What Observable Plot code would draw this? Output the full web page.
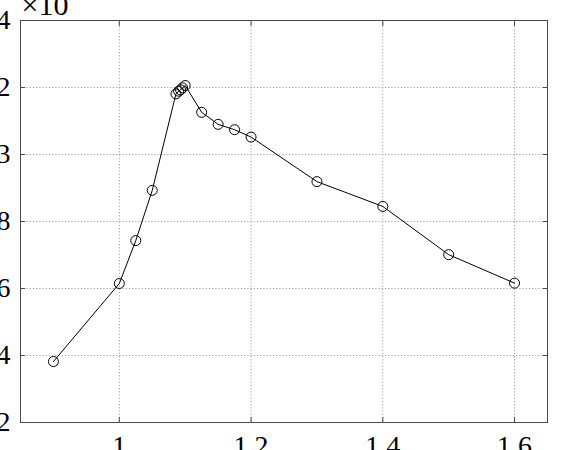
<!DOCTYPE html>
<html>
<head>
<meta charset="utf-8">
<script src="https://cdn.jsdelivr.net/npm/d3@7"></script>
<script src="https://cdn.jsdelivr.net/npm/@observablehq/plot@0.6"></script>
<style>
  html, body { margin: 0; padding: 0; background: #fff; overflow: hidden; }
  svg { display: block; }
  svg text { font-family: 'Liberation Serif', 'Times New Roman', serif; }
</style>
</head>
<body>
<div id="chart"></div>
<script>
const xValues = [0.9, 1.0, 1.025, 1.05, 1.086, 1.09, 1.093, 1.096, 1.1, 1.125, 1.15, 1.175, 1.2, 1.3, 1.4, 1.5, 1.6];
const yValues = [3.82, 6.15, 7.43, 8.93, 11.81, 11.89, 11.93, 11.99, 12.06, 11.26, 10.9, 10.74, 10.52, 9.19, 8.45, 7.01, 6.16];
const xTicks = [1.0, 1.2, 1.4, 1.6];
const xTickLabels = ["1", "1.2", "1.4", "1.6"];
const yTicks = [2, 4, 6, 8, 10, 12, 14];
const yTickLabels = ["2", "4", "6", "8", "3", "2", "4"];
const exponentLabel = "×10";

const data = xValues.map((x, i) => ({x, y: yValues[i]}));
const gridStyle = {stroke: "#a0a0a0", strokeOpacity: 1, strokeDasharray: "1.2,2", strokeWidth: 1};
const frameColor = "#4a4a4a";

const chart = Plot.plot({
  width: 565,
  height: 450,
  marginLeft: 20,
  marginRight: 18,
  marginTop: 20,
  marginBottom: 28,
  style: {fontFamily: "'Liberation Serif', 'Times New Roman', serif", fontSize: "28px", color: "#000", background: "#fff"},
  x: {domain: [0.85, 1.65], ticks: xTicks, label: null},
  y: {domain: [2, 14], ticks: yTicks, label: null},
  marks: [
    Plot.gridX(xTicks, {...gridStyle}),
    Plot.gridY(yTicks, {...gridStyle}),
    Plot.frame({stroke: frameColor, strokeWidth: 1}),
    Plot.axisX(xTicks, {anchor: "bottom", tickSize: -5, text: null, label: null, stroke: frameColor}),
    Plot.axisX(xTicks, {anchor: "top", tickSize: -5, text: null, label: null, stroke: frameColor}),
    Plot.axisY(yTicks, {anchor: "left", tickSize: -5, text: null, label: null, stroke: frameColor}),
    Plot.axisY(yTicks, {anchor: "right", tickSize: -5, text: null, label: null, stroke: frameColor}),
    Plot.axisX(xTicks, {anchor: "bottom", tickSize: 0, tickPadding: 13, label: null,
      tickFormat: d => xTickLabels[xTicks.indexOf(d)], fill: "#000", fontSize: 28}),
    Plot.axisY(yTicks, {anchor: "left", tickSize: 0, tickPadding: 10, label: null,
      tickFormat: d => yTickLabels[yTicks.indexOf(d)], fill: "#000", fontSize: 28}),
    Plot.text([exponentLabel], {text: d => d, frameAnchor: "top-left", textAnchor: "start",
      lineAnchor: "bottom", dx: 1, dy: -6, fontSize: 30, fill: "#000"}),
    Plot.line(data, {x: "x", y: "y", stroke: "#000", strokeWidth: 1}),
    Plot.dot(data, {x: "x", y: "y", r: 5, stroke: "#000", strokeWidth: 1, fill: "none"})
  ]
});
document.getElementById("chart").appendChild(chart);
</script>
</body>
</html>
